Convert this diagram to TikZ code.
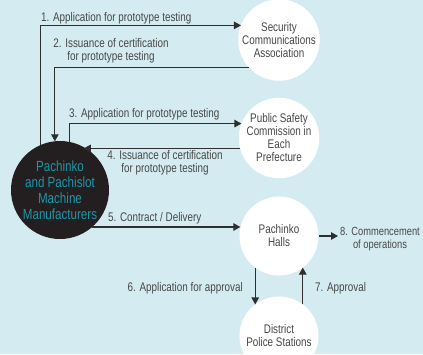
\documentclass[tikz,border=0pt]{standalone}
\usepackage{fontspec}
\setmainfont{Liberation Sans}[FakeStretch=0.79]
\usetikzlibrary{arrows.meta}

\definecolor{bgblue}{HTML}{D4ECF1}
\definecolor{makerblack}{HTML}{231F20}
\definecolor{makerteal}{HTML}{1A97AA}
\definecolor{textgray}{HTML}{474747}
\definecolor{linegray}{HTML}{2E2E2E}

\begin{document}
\begin{tikzpicture}[
  x = 1pt, y = -1pt,
  font = \fontsize{12.5}{13}\selectfont,
  party/.style={circle, fill=white, minimum size=79pt, inner sep=0pt, outer sep=0pt,
    align=center, text=textgray},
  maker/.style={circle, fill=makerblack, minimum size=98pt, inner sep=0pt, outer sep=0pt,
    align=center, text=makerteal, font=\fontsize{14.7}{16}\selectfont},
  flow/.style={draw=linegray, line width=1.1pt, -{Triangle[length=7pt,width=7.5pt]}},
  lbl/.style={text=textgray, inner sep=0pt, align=center}]
\fill[bgblue] (0,0) rectangle (423,354);
\useasboundingbox (0,0) rectangle (423,354);

% the parties
\node[maker] (maker) at (60,190) {Pachinko\\and Pachislot\\Machine\\Manufacturers};
\node[party] (sca) at (279,40) {Security\\Communications\\Association};
\node[party] (psc) at (279,138) {Public Safety\\Commission in\\Each\\Prefecture};
\node[party] (halls) at (279,236) {Pachinko\\Halls};
\node[party] (police) at (279,336) {District\\Police Stations};

% step labels
\node[lbl, anchor=west] (l1) at (41,18) {1. Application for prototype testing};
\node[lbl] (l2) at (111,51) {2. Issuance of certification\\for prototype testing};
\node[lbl, anchor=west] (l3) at (69,114) {3. Application for prototype testing};
\node[lbl] (l4) at (165,163) {4. Issuance of certification\\for prototype testing};
\node[lbl, anchor=west] (l5) at (108,218) {5. Contract / Delivery};
\node[lbl, anchor=east] (l6) at (243,288) {6. Application for approval};
\node[lbl, anchor=west] (l7) at (315,288) {7. Approval};
\node[lbl, anchor=west, inner xsep=2pt, font=\fontsize{11.8}{12.5}\selectfont]
  (ops) at (338,239) {8. Commencement\\of operations};

% flows
\draw[flow] (maker.113) |- (sca.159);
\draw[flow] (sca.223) -| (maker.96);
\draw[flow] (maker.79) |- (psc.159);
\draw[flow] (psc.195) -- (psc.195 -| maker.61);
\draw[flow] (maker.-49) -- (maker.-49 -| halls.168);
\draw[flow] (halls.233) -- (police.127);
\draw[flow] (police.53) -- (halls.-53);
\draw[flow] (halls.east) -- (halls.east -| ops.west);
\end{tikzpicture}
\end{document}
